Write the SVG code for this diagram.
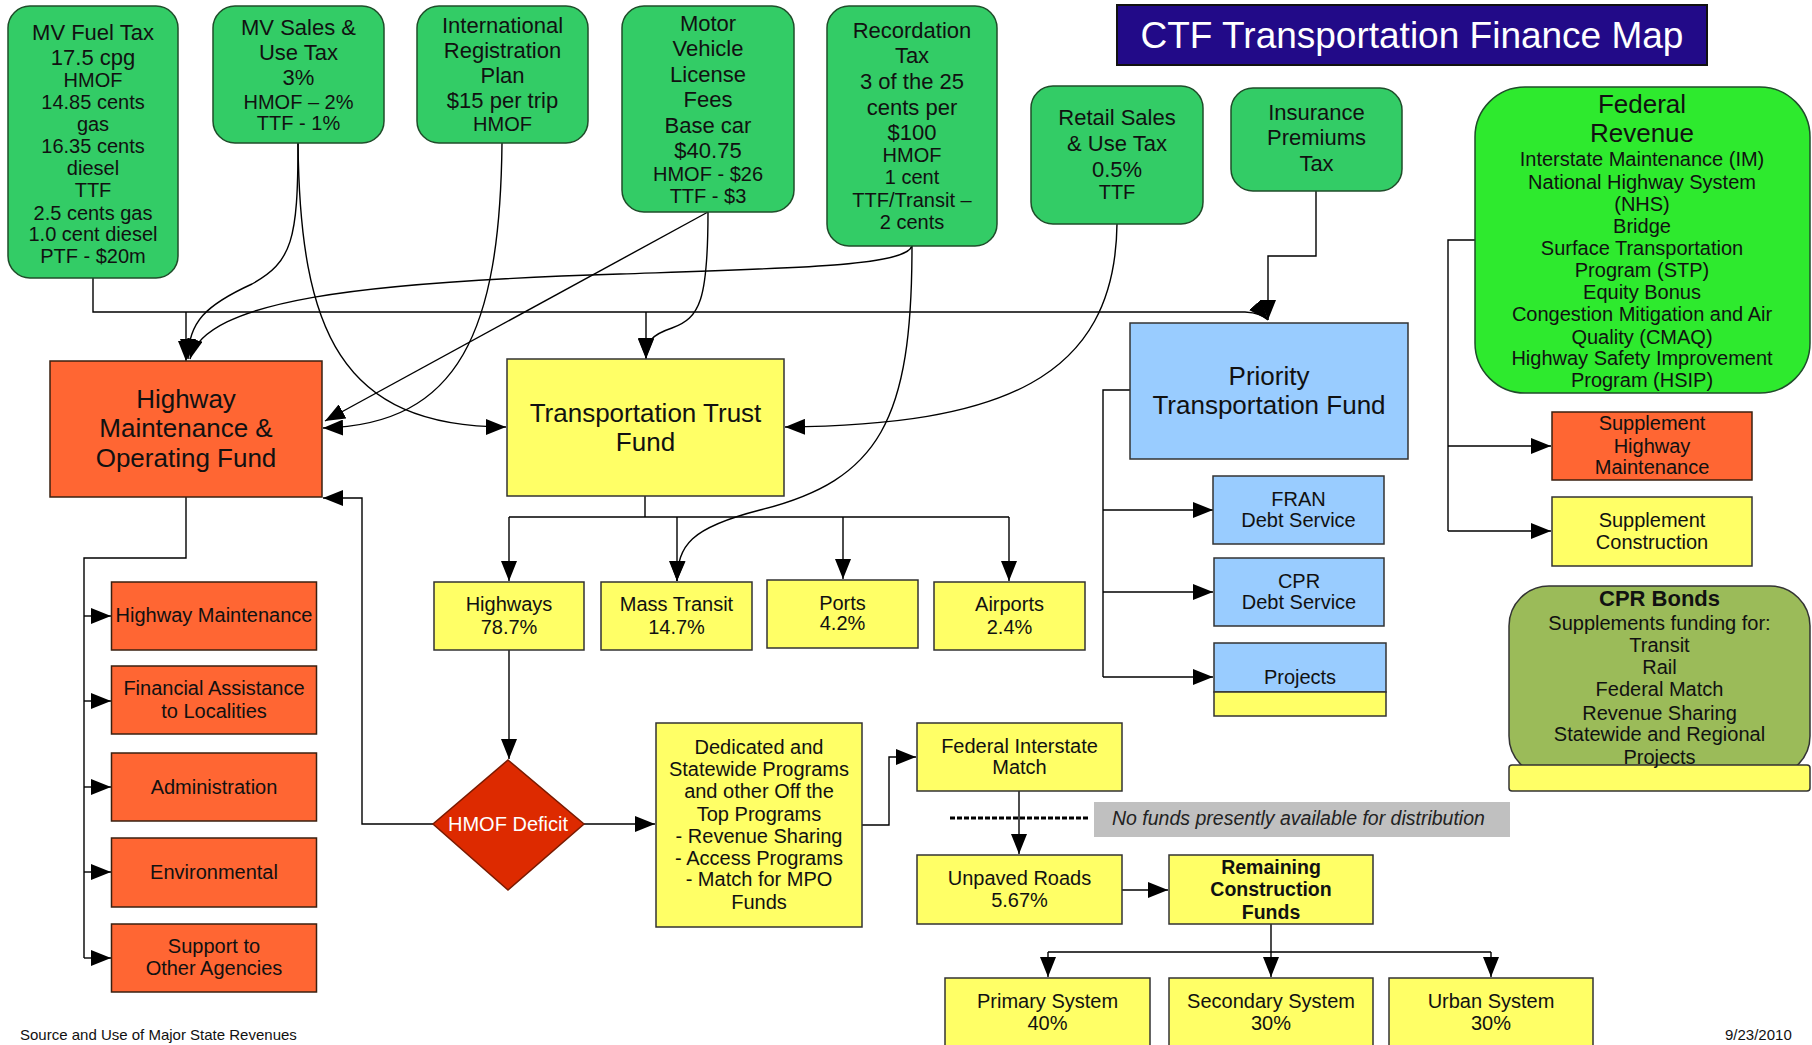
<svg xmlns="http://www.w3.org/2000/svg" width="1812" height="1045" viewBox="0 0 1812 1045">
<style>
  text { font-family: "Liberation Sans", Arial, sans-serif; fill: #111; text-anchor: middle; }
  .f22 { font-size: 22px; }
  .f20 { font-size: 20px; }
  .f26 { font-size: 26px; }
  .src { fill: #33cc66; stroke: #1f4d2a; stroke-width: 1.5; }
  .fed { fill: #2eea2e; stroke: #1f4d2a; stroke-width: 1.5; }
  .org { fill: #ff6633; stroke: #3a2010; stroke-width: 1.5; }
  .yel { fill: #ffff66; stroke: #333; stroke-width: 1.5; }
  .blu { fill: #99ccff; stroke: #333; stroke-width: 1.5; }
  .conn path { fill: none; stroke: #000; stroke-width: 1.4; }
  .arr { marker-end: url(#ah); }
</style>
<defs>
  <marker id="ah" viewBox="0 0 20 16" refX="20" refY="8" markerWidth="20" markerHeight="16" markerUnits="userSpaceOnUse" orient="auto">
    <path d="M0,0 L20,8 L0,16 z" fill="#000"/>
  </marker>
</defs>
<rect x="0" y="0" width="1812" height="1045" fill="#ffffff"/>

<!-- Connectors -->
<g id="connectors" class="conn">
  <path class="arr" d="M 93 278 L 93 312 L 1245 312 Q 1262 313 1268 320"/>
  <path class="arr" d="M 186 312 L 186 361"/>
  <path class="arr" d="M 646 312 L 646 359"/>
  <path class="arr" d="M 1316 191 L 1316 256 L 1268 256 L 1268 320"/>
  <path class="arr" d="M 298 143 C 298 240 292 262 252 284 C 206 305 188 322 188 359"/>
  <path class="arr" d="M 298 143 C 300 330 340 427 506 427"/>
  <path class="arr" d="M 502 143 C 500 330 460 425 323 428"/>
  <path class="arr" d="M 708 212 L 325 421"/>
  <path class="arr" d="M 708 212 C 708 300 700 318 672 328 C 651 335 646 342 646 358"/>
  <path class="arr" d="M 912 246 C 905 266 800 268 620 274 C 360 282 205 300 190 359"/>
  <path class="arr" d="M 912 246 C 912 420 880 480 760 510 C 690 528 678 545 677 581"/>
  <path class="arr" d="M 1117 224 C 1115 380 1000 425 785 427"/>
  <path d="M 645 496 L 645 517 M 509 517 L 1009 517"/>
  <path class="arr" d="M 509 517 L 509 581"/>
  <path class="arr" d="M 677 517 L 677 581"/>
  <path class="arr" d="M 843 517 L 843 579"/>
  <path class="arr" d="M 1009 517 L 1009 581"/>
  <path class="arr" d="M 509 650 L 509 759"/>
  <path class="arr" d="M 433 824 L 362 824 L 362 498 L 323 498"/>
  <path class="arr" d="M 584 824 L 655 824"/>
  <path class="arr" d="M 862 825 L 889 825 L 889 757 L 916 757"/>
  <path class="arr" d="M 1019 791 L 1019 854"/>
  <path class="arr" d="M 1122 890 L 1168 890"/>
  <path d="M 1271 924 L 1271 952 M 1048 952 L 1491 952"/>
  <path class="arr" d="M 1271 952 L 1271 977"/>
  <path class="arr" d="M 1048 952 L 1048 977"/>
  <path class="arr" d="M 1491 952 L 1491 977"/>
  <path d="M 186 497 L 186 558 L 84 558 L 84 958"/>
  <path class="arr" d="M 84 616 L 111 616"/>
  <path class="arr" d="M 84 701 L 111 701"/>
  <path class="arr" d="M 84 787 L 111 787"/>
  <path class="arr" d="M 84 872 L 111 872"/>
  <path class="arr" d="M 84 958 L 111 958"/>
  <path d="M 1130 390 L 1103 390 L 1103 677"/>
  <path class="arr" d="M 1103 510 L 1213 510"/>
  <path class="arr" d="M 1103 592 L 1213 592"/>
  <path class="arr" d="M 1103 677 L 1213 677"/>
  <path d="M 1475 240 L 1448 240 L 1448 531"/>
  <path class="arr" d="M 1448 446 L 1551 446"/>
  <path class="arr" d="M 1448 531 L 1551 531"/>
  <path d="M 950 818 L 1088 818" style="stroke-width:3;stroke-dasharray:5 2"/>
</g>

<!-- Title -->
<g id="title">
  <rect x="1117" y="5" width="590" height="60" fill="#220a88" stroke="#111" stroke-width="2"/>
  <text x="1412" y="48" style="font-size:37px;fill:#ffffff">CTF Transportation Finance Map</text>
</g>

<!-- Revenue sources -->
<g id="mv-fuel-tax">
  <rect class="src" x="8" y="6" width="170" height="272" rx="22"/>
  <text class="f22" x="93" y="40">MV Fuel Tax</text>
  <text class="f22" x="93" y="65">17.5 cpg</text>
  <text class="f20" x="93" y="87">HMOF</text>
  <text class="f20" x="93" y="109">14.85 cents</text>
  <text class="f20" x="93" y="131">gas</text>
  <text class="f20" x="93" y="153">16.35 cents</text>
  <text class="f20" x="93" y="175">diesel</text>
  <text class="f20" x="93" y="197">TTF</text>
  <text class="f20" x="93" y="220">2.5 cents gas</text>
  <text class="f20" x="93" y="241">1.0 cent diesel</text>
  <text class="f20" x="93" y="263">PTF - $20m</text>
</g>
<g id="mv-sales-tax">
  <rect class="src" x="213" y="6" width="171" height="137" rx="22"/>
  <text class="f22" x="298.5" y="35">MV Sales &amp;</text>
  <text class="f22" x="298.5" y="60">Use Tax</text>
  <text class="f22" x="298.5" y="85">3%</text>
  <text class="f20" x="298.5" y="109">HMOF – 2%</text>
  <text class="f20" x="298.5" y="130">TTF - 1%</text>
</g>
<g id="irp">
  <rect class="src" x="417" y="6" width="171" height="137" rx="22"/>
  <text class="f22" x="502.5" y="33">International</text>
  <text class="f22" x="502.5" y="58">Registration</text>
  <text class="f22" x="502.5" y="83">Plan</text>
  <text class="f22" x="502.5" y="108">$15 per trip</text>
  <text class="f20" x="502.5" y="131">HMOF</text>
</g>
<g id="mv-license">
  <rect class="src" x="622" y="6" width="172" height="206" rx="22"/>
  <text class="f22" x="708" y="31">Motor</text>
  <text class="f22" x="708" y="56">Vehicle</text>
  <text class="f22" x="708" y="82">License</text>
  <text class="f22" x="708" y="107">Fees</text>
  <text class="f22" x="708" y="133">Base car</text>
  <text class="f22" x="708" y="158">$40.75</text>
  <text class="f20" x="708" y="181">HMOF - $26</text>
  <text class="f20" x="708" y="203">TTF - $3</text>
</g>
<g id="recordation">
  <rect class="src" x="827" y="6" width="170" height="240" rx="22"/>
  <text class="f22" x="912" y="38">Recordation</text>
  <text class="f22" x="912" y="63">Tax</text>
  <text class="f22" x="912" y="89">3 of the 25</text>
  <text class="f22" x="912" y="115">cents per</text>
  <text class="f22" x="912" y="140">$100</text>
  <text class="f20" x="912" y="162">HMOF</text>
  <text class="f20" x="912" y="184">1 cent</text>
  <text class="f20" x="912" y="207">TTF/Transit –</text>
  <text class="f20" x="912" y="229">2 cents</text>
</g>
<g id="retail-sales">
  <rect class="src" x="1031" y="86" width="172" height="138" rx="22"/>
  <text class="f22" x="1117" y="125">Retail Sales</text>
  <text class="f22" x="1117" y="151">&amp; Use Tax</text>
  <text class="f22" x="1117" y="177">0.5%</text>
  <text class="f20" x="1117" y="199">TTF</text>
</g>
<g id="insurance">
  <rect class="src" x="1231" y="88" width="171" height="103" rx="22"/>
  <text class="f22" x="1316.5" y="120">Insurance</text>
  <text class="f22" x="1316.5" y="145">Premiums</text>
  <text class="f22" x="1316.5" y="171">Tax</text>
</g>
<g id="federal-revenue">
  <rect class="fed" x="1475" y="87" width="335" height="306" rx="50"/>
  <text class="f26" x="1642" y="113">Federal</text>
  <text class="f26" x="1642" y="142">Revenue</text>
  <text class="f20" x="1642" y="166">Interstate Maintenance (IM)</text>
  <text class="f20" x="1642" y="189">National Highway System</text>
  <text class="f20" x="1642" y="211">(NHS)</text>
  <text class="f20" x="1642" y="233">Bridge</text>
  <text class="f20" x="1642" y="255">Surface Transportation</text>
  <text class="f20" x="1642" y="277">Program (STP)</text>
  <text class="f20" x="1642" y="299">Equity Bonus</text>
  <text class="f20" x="1642" y="321">Congestion Mitigation and Air</text>
  <text class="f20" x="1642" y="344">Quality (CMAQ)</text>
  <text class="f20" x="1642" y="365">Highway Safety Improvement</text>
  <text class="f20" x="1642" y="387">Program (HSIP)</text>
</g>

<!-- Funds -->
<g id="hmof">
  <rect class="org" x="50" y="361" width="272" height="136"/>
  <text class="f26" x="186" y="408">Highway</text>
  <text class="f26" x="186" y="437">Maintenance &amp;</text>
  <text class="f26" x="186" y="467">Operating Fund</text>
</g>
<g id="ttf">
  <rect class="yel" x="507" y="359" width="277" height="137"/>
  <text class="f26" x="645.5" y="422">Transportation Trust</text>
  <text class="f26" x="645.5" y="451">Fund</text>
</g>
<g id="ptf">
  <rect class="blu" x="1130" y="323" width="278" height="136"/>
  <text class="f26" x="1269" y="385">Priority</text>
  <text class="f26" x="1269" y="414">Transportation Fund</text>
</g>

<!-- TTF distribution -->
<g id="highways">
  <rect class="yel" x="434" y="582" width="150" height="68"/>
  <text class="f20" x="509" y="611">Highways</text>
  <text class="f20" x="509" y="634">78.7%</text>
</g>
<g id="mass-transit">
  <rect class="yel" x="601" y="582" width="151" height="68"/>
  <text class="f20" x="676.5" y="611">Mass Transit</text>
  <text class="f20" x="676.5" y="634">14.7%</text>
</g>
<g id="ports">
  <rect class="yel" x="767" y="580" width="151" height="68"/>
  <text class="f20" x="842.5" y="610">Ports</text>
  <text class="f20" x="842.5" y="630">4.2%</text>
</g>
<g id="airports">
  <rect class="yel" x="934" y="582" width="151" height="68"/>
  <text class="f20" x="1009.5" y="611">Airports</text>
  <text class="f20" x="1009.5" y="634">2.4%</text>
</g>

<!-- HMOF uses -->
<g id="highway-maintenance">
  <rect class="org" x="111.5" y="582" width="205" height="68"/>
  <text class="f20" x="214" y="622">Highway Maintenance</text>
</g>
<g id="financial-assistance">
  <rect class="org" x="111.5" y="666" width="205" height="68"/>
  <text class="f20" x="214" y="695">Financial Assistance</text>
  <text class="f20" x="214" y="718">to Localities</text>
</g>
<g id="administration">
  <rect class="org" x="111.5" y="753" width="205" height="68"/>
  <text class="f20" x="214" y="794">Administration</text>
</g>
<g id="environmental">
  <rect class="org" x="111.5" y="838" width="205" height="69"/>
  <text class="f20" x="214" y="879">Environmental</text>
</g>
<g id="support">
  <rect class="org" x="111.5" y="924" width="205" height="68"/>
  <text class="f20" x="214" y="953">Support to</text>
  <text class="f20" x="214" y="975">Other Agencies</text>
</g>

<!-- Deficit and construction -->
<g id="hmof-deficit">
  <polygon points="508,760 584,824 508,890 433,824" fill="#dd2a00" stroke="#7a1a00" stroke-width="1.5"/>
  <text class="f20" x="508" y="831" style="fill:#ffffff">HMOF Deficit</text>
</g>
<g id="dedicated">
  <rect class="yel" x="656" y="723" width="206" height="204"/>
  <text class="f20" x="759" y="754">Dedicated and</text>
  <text class="f20" x="759" y="776">Statewide Programs</text>
  <text class="f20" x="759" y="798">and other Off the</text>
  <text class="f20" x="759" y="821">Top Programs</text>
  <text class="f20" x="759" y="843">- Revenue Sharing</text>
  <text class="f20" x="759" y="865">- Access Programs</text>
  <text class="f20" x="759" y="886">- Match for MPO</text>
  <text class="f20" x="759" y="909">Funds</text>
</g>
<g id="federal-interstate-match">
  <rect class="yel" x="917" y="723" width="205" height="68"/>
  <text class="f20" x="1019.5" y="753">Federal Interstate</text>
  <text class="f20" x="1019.5" y="774">Match</text>
</g>
<g id="no-funds-note">
  <rect x="1094" y="802" width="416" height="35" fill="#c0c0c0"/>
  <text x="1112" y="825" style="font-size:19.5px;font-style:italic;text-anchor:start;fill:#222">No funds presently available for distribution</text>
</g>
<g id="unpaved-roads">
  <rect class="yel" x="917" y="855" width="205" height="69"/>
  <text class="f20" x="1019.5" y="885">Unpaved Roads</text>
  <text class="f20" x="1019.5" y="907">5.67%</text>
</g>
<g id="remaining-construction">
  <rect class="yel" x="1169" y="855" width="204" height="69"/>
  <text x="1271" y="874" style="font-size:19.5px;font-weight:bold">Remaining</text>
  <text x="1271" y="896" style="font-size:19.5px;font-weight:bold">Construction</text>
  <text x="1271" y="919" style="font-size:19.5px;font-weight:bold">Funds</text>
</g>
<g id="primary-system">
  <rect class="yel" x="945" y="978" width="205" height="80"/>
  <text class="f20" x="1047.5" y="1008">Primary System</text>
  <text class="f20" x="1047.5" y="1030">40%</text>
</g>
<g id="secondary-system">
  <rect class="yel" x="1169" y="978" width="204" height="80"/>
  <text class="f20" x="1271" y="1008">Secondary System</text>
  <text class="f20" x="1271" y="1030">30%</text>
</g>
<g id="urban-system">
  <rect class="yel" x="1389" y="978" width="204" height="80"/>
  <text class="f20" x="1491" y="1008">Urban System</text>
  <text class="f20" x="1491" y="1030">30%</text>
</g>

<!-- PTF uses -->
<g id="fran-debt">
  <rect class="blu" x="1213" y="476" width="171" height="68"/>
  <text class="f20" x="1298.5" y="506">FRAN</text>
  <text class="f20" x="1298.5" y="527">Debt Service</text>
</g>
<g id="cpr-debt">
  <rect class="blu" x="1214" y="558" width="170" height="68"/>
  <text class="f20" x="1299" y="588">CPR</text>
  <text class="f20" x="1299" y="609">Debt Service</text>
</g>
<g id="projects">
  <rect class="blu" x="1214" y="643" width="172" height="49"/>
  <rect class="yel" x="1214" y="692" width="172" height="24"/>
  <text class="f20" x="1300" y="684">Projects</text>
</g>

<!-- Federal uses -->
<g id="supplement-highway-maintenance">
  <rect class="org" x="1552" y="412" width="200" height="68"/>
  <text class="f20" x="1652" y="430">Supplement</text>
  <text class="f20" x="1652" y="453">Highway</text>
  <text class="f20" x="1652" y="474">Maintenance</text>
</g>
<g id="supplement-construction">
  <rect class="yel" x="1552" y="497" width="200" height="69"/>
  <text class="f20" x="1652" y="527">Supplement</text>
  <text class="f20" x="1652" y="549">Construction</text>
</g>
<g id="cpr-bonds">
  <rect x="1509" y="586" width="301" height="190" rx="40" fill="#9bbb59" stroke="#333" stroke-width="1.5"/>
  <rect class="yel" x="1509" y="765" width="301" height="26" rx="3"/>
  <text x="1659.5" y="606" style="font-size:22px;font-weight:bold">CPR Bonds</text>
  <text class="f20" x="1659.5" y="630">Supplements funding for:</text>
  <text class="f20" x="1659.5" y="652">Transit</text>
  <text class="f20" x="1659.5" y="674">Rail</text>
  <text class="f20" x="1659.5" y="696">Federal Match</text>
  <text class="f20" x="1659.5" y="720">Revenue Sharing</text>
  <text class="f20" x="1659.5" y="741">Statewide and Regional</text>
  <text class="f20" x="1659.5" y="764">Projects</text>
</g>

<!-- Footer -->
<g id="footer">
  <text x="20" y="1040" style="font-size:15px;text-anchor:start">Source and Use of Major State Revenues</text>
  <text x="1725" y="1040" style="font-size:15px;text-anchor:start">9/23/2010</text>
</g>
</svg>
